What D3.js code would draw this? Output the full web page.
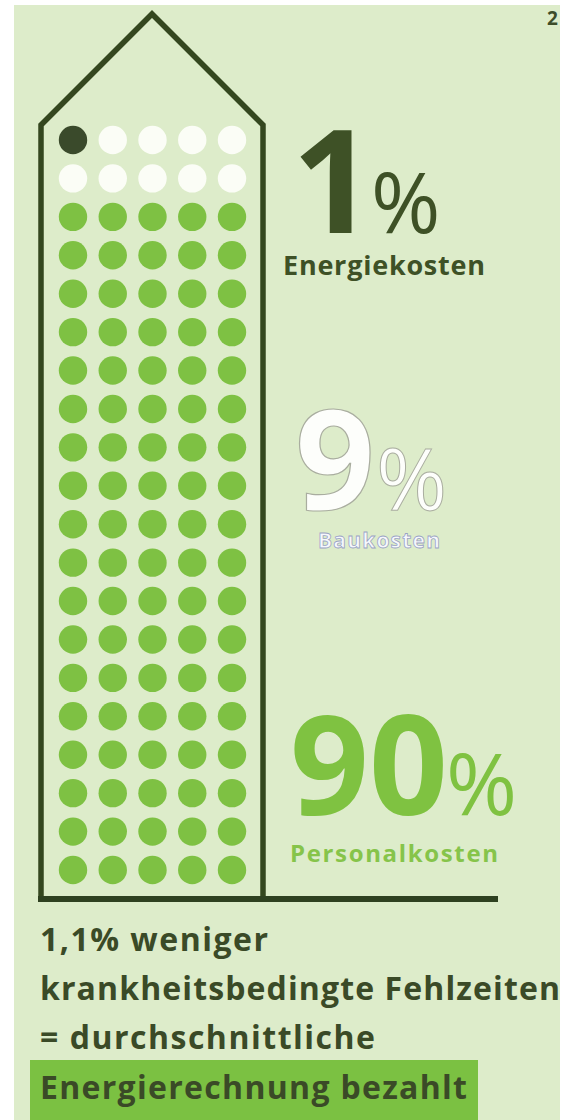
<!DOCTYPE html>
<html>
<head>
<meta charset="utf-8">
<script src="https://cdn.jsdelivr.net/npm/d3@7"></script>
<style>
  html, body { margin: 0; padding: 0; background: #ffffff; }
  svg { display: block; }
  text { font-family: "Open Sans", "Noto Sans", sans-serif; }
</style>
</head>
<body>
<svg id="chart" width="568" height="1120"></svg>
<script>
// Cost shares of a building over its life cycle (percent)
const categories = ["Energiekosten", "Baukosten", "Personalkosten"];
const shares = [1, 9, 90];
const shareLabels = ["1", "9", "90"];
const dotColors = ["#3a4a2b", "#fbfdf6", "#7ec143"];

// Caption lines below the house
const captionLines = [
  "1,1% weniger",
  "krankheitsbedingte Fehlzeiten",
  "= durchschnittliche",
  "Energierechnung bezahlt"
];
const pageNumber = "2";

const W = 568, H = 1120;
const svg = d3.select("#chart");

// panel background
svg.append("rect").attr("x", 14).attr("y", 5).attr("width", 546).attr("height", H - 5)
  .attr("fill", "#ddecca");

svg.append("text").attr("x", 547).attr("y", 25)
  .attr("font-size", 19).attr("font-weight", 700).attr("fill", "#3d4d2a")
  .text(pageNumber);

// 5 x 20 unit grid, one dot per percent
const nCols = 5, nRows = 20;
const xCol = d3.scalePoint().domain(d3.range(nCols)).range([73, 232]);
const yRow = d3.scalePoint().domain(d3.range(nRows)).range([140, 870]);

const dots = [];
shares.forEach((v, ci) => {
  for (let k = 0; k < v; k++) dots.push({ cat: ci });
});
dots.forEach((d, i) => { d.col = i % nCols; d.row = Math.floor(i / nCols); });

svg.append("g").selectAll("circle").data(dots).join("circle")
  .attr("cx", d => xCol(d.col))
  .attr("cy", d => yRow(d.row))
  .attr("r", 14.2)
  .attr("fill", d => dotColors[d.cat]);

// house outline
const house = d3.path();
house.moveTo(41, 899);
house.lineTo(41, 125);
house.lineTo(152, 14);
house.lineTo(263, 125);
house.lineTo(263, 899);
svg.append("path").attr("d", house.toString())
  .attr("fill", "none").attr("stroke", "#34471f").attr("stroke-width", 5.5)
  .attr("stroke-linejoin", "miter");

// ground line
svg.append("line").attr("x1", 38).attr("x2", 498).attr("y1", 899).attr("y2", 899)
  .attr("stroke", "#2e4120").attr("stroke-width", 6);

// share labels
const labelSpec = [
  { numX: 292, numY: 233, numSize: 144, pctX: 371, pctSize: 84,
    numFill: "#3e5126", numStroke: "none", catX: 283, catY: 275, catSize: 27, catLen: 202,
    catFill: "#3e5126", catStroke: "none" },
  { numX: 295, numY: 510, numSize: 140, pctX: 376, pctSize: 86,
    numFill: "#fdfefb", numStroke: "#a9ad9f", catX: 318, catY: 548, catSize: 21, catLen: 122,
    catFill: "#f6f8fc", catStroke: "#9aa3c4" },
  { numX: 290, numY: 815, numSize: 138, pctX: 446, pctSize: 86,
    numFill: "#7fc241", numStroke: "none", catX: 290, catY: 862, catSize: 24, catLen: 208,
    catFill: "#86c44a", catStroke: "none" }
];

labelSpec.forEach((s, i) => {
  const g = svg.append("g");
  g.append("text").attr("x", s.numX).attr("y", s.numY)
    .attr("font-size", s.numSize).attr("font-weight", 700)
    .attr("fill", s.numFill).attr("stroke", s.numStroke).attr("stroke-width", 1.2)
    .text(shareLabels[i]);
  g.append("text").attr("x", s.pctX).attr("y", s.numY)
    .attr("font-size", s.pctSize).attr("font-weight", 400)
    .attr("fill", s.numFill).attr("stroke", s.numStroke).attr("stroke-width", 1)
    .text("%");
  g.append("text").attr("x", s.catX).attr("y", s.catY)
    .attr("font-size", s.catSize).attr("font-weight", 700)
    .attr("fill", s.catFill).attr("stroke", s.catStroke).attr("stroke-width", 0.8)
    .attr("textLength", s.catLen).attr("lengthAdjust", "spacing")
    .text(categories[i]);
});

// caption with highlighted last line
svg.append("rect").attr("x", 30).attr("y", 1060).attr("width", 448).attr("height", 60)
  .attr("fill", "#7bc142");

const captionY = [951, 1000, 1049, 1099];
const captionLen = [228, 520, 335, 427];
svg.append("g").selectAll("text").data(captionLines).join("text")
  .attr("x", 40)
  .attr("y", (d, i) => captionY[i])
  .attr("font-size", 32).attr("font-weight", 700).attr("fill", "#3a4a27")
  .attr("textLength", (d, i) => captionLen[i]).attr("lengthAdjust", "spacing")
  .text(d => d);
</script>
</body>
</html>
